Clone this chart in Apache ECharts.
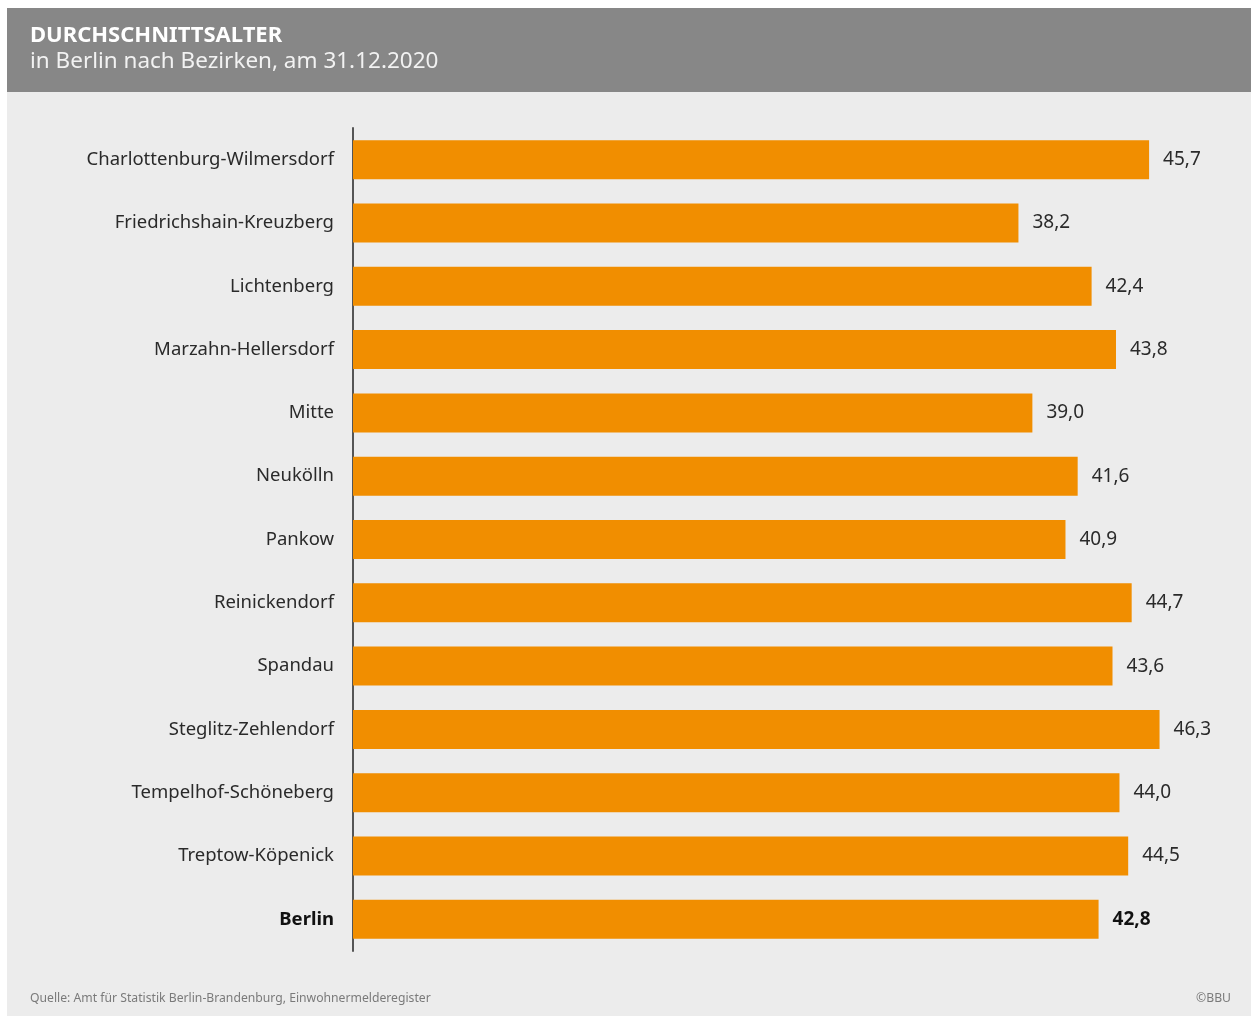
<!DOCTYPE html>
<html>
<head>
<meta charset="utf-8">
<title>Durchschnittsalter Berlin</title>
<script src="https://cdn.jsdelivr.net/npm/echarts@6/dist/echarts.min.js"></script>
<style>
  html, body { margin: 0; padding: 0; background: #ffffff; }
  #chart { width: 1251px; height: 1016px; }
</style>
</head>
<body>
<div id="chart"></div>
<script>
// Bezirke (top to bottom) and their average age at 31.12.2020
const districts = [
  'Charlottenburg-Wilmersdorf', 'Friedrichshain-Kreuzberg', 'Lichtenberg',
  'Marzahn-Hellersdorf', 'Mitte', 'Neukölln', 'Pankow', 'Reinickendorf',
  'Spandau', 'Steglitz-Zehlendorf', 'Tempelhof-Schöneberg', 'Treptow-Köpenick',
  'Berlin'
];
const averageAge = [45.7, 38.2, 42.4, 43.8, 39.0, 41.6, 40.9, 44.7, 43.6, 46.3, 44.0, 44.5, 42.8];
const totalName = 'Berlin';

const FONT = '"Noto Sans", "Open Sans", sans-serif';
const ORANGE = '#f18e00';

const fmt = v => v.toFixed(1).replace('.', ',');

const chart = echarts.init(document.getElementById('chart'), null, { renderer: 'canvas' });

chart.setOption({
  backgroundColor: '#ffffff',
  animation: false,
  graphic: [
    { type: 'rect', z: -10, silent: true, shape: { x: 7, y: 8, width: 1244, height: 84 }, style: { fill: '#878787' } },
    { type: 'rect', z: -10, silent: true, shape: { x: 7, y: 92, width: 1244, height: 924 }, style: { fill: '#ececec' } },
    { type: 'text', left: 30, top: 25, style: { text: 'DURCHSCHNITTSALTER', fill: '#ffffff', font: 'bold 22px ' + FONT, letterSpacing: 1.8 } },
    { type: 'text', left: 30, top: 50, style: { text: 'in Berlin nach Bezirken, am 31.12.2020', fill: '#f2f2f2', font: '22.5px ' + FONT } },
    { type: 'text', left: 30, top: 993, style: { text: 'Quelle: Amt für Statistik Berlin-Brandenburg, Einwohnermelderegister', fill: '#7a7a7a', font: '12.2px ' + FONT } },
    { type: 'text', right: 20, top: 993, style: { text: '©BBU', fill: '#7a7a7a', font: '12.2px ' + FONT } }
  ],
  grid: { left: 353, right: 27, top: 128, bottom: 65 },
  xAxis: {
    type: 'value', min: 0, max: 50, show: false
  },
  yAxis: {
    type: 'category',
    inverse: true,
    data: districts.map(d => d === totalName
      ? { value: d, textStyle: { fontWeight: 'bold', color: '#111' } }
      : d),
    axisLine: { show: true, lineStyle: { color: '#555555', width: 2 } },
    axisTick: { show: false },
    axisLabel: { color: '#2a2a2a', fontSize: 18.5, fontFamily: FONT, margin: 19 },
    splitLine: { show: false }
  },
  series: [{
    type: 'bar',
    barWidth: 39,
    itemStyle: { color: ORANGE },
    label: {
      show: true, position: 'right', distance: 14,
      color: '#2a2a2a', fontSize: 19, fontFamily: FONT,
      formatter: p => fmt(p.value)
    },
    data: averageAge.map((v, i) => districts[i] === totalName
      ? { value: v, label: { fontWeight: 'bold', color: '#111' } }
      : v)
  }]
});
</script>
</body>
</html>
